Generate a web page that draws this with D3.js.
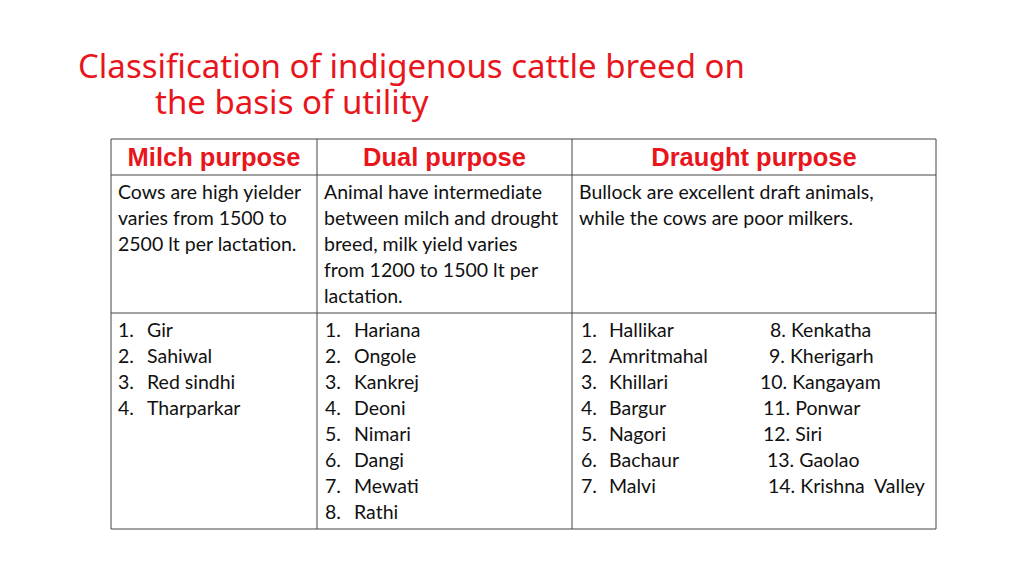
<!DOCTYPE html>
<html><head><meta charset="utf-8">
<script src="https://cdn.jsdelivr.net/npm/d3@7"></script>
<style>body{margin:0;background:#fff}</style>
</head><body>
<svg id="slide" width="1024" height="575"></svg>
<script>
const titleLines = ["Classification of indigenous cattle breed on", "the basis of utility"];
const headers = ["Milch purpose", "Dual purpose", "Draught purpose"];
const descriptions = [
  ["Cows are high yielder", "varies from 1500 to", "2500 lt per lactation."],
  ["Animal have intermediate", "between milch and drought", "breed, milk yield varies", "from 1200 to 1500 lt per", "lactation."],
  ["Bullock are excellent draft animals,", "while the cows are poor milkers."]
];
const milchBreeds = ["Gir", "Sahiwal", "Red sindhi", "Tharparkar"];
const dualBreeds = ["Hariana", "Ongole", "Kankrej", "Deoni", "Nimari", "Dangi", "Mewati", "Rathi"];
const draughtBreeds = ["Hallikar", "Amritmahal", "Khillari", "Bargur", "Nagori", "Bachaur", "Malvi",
  "Kenkatha", "Kherigarh", "Kangayam", "Ponwar", "Siri", "Gaolao", "Krishna  Valley"];

const svg = d3.select("#slide");
const red = "#e8161c";
const bodyFont = "Lato, 'Open Sans', sans-serif";
const bodySize = 19.5;

// title
svg.selectAll("text.title").data(titleLines).enter().append("text")
  .attr("x", (d, i) => i === 0 ? 78 : 155)
  .attr("y", (d, i) => 78 + i * 36)
  .attr("fill", red).attr("font-family", "'Noto Sans', 'Open Sans', sans-serif")
  .attr("font-size", 33).text(d => d);

const colX = [111, 317, 572, 936];
const rowY = [139, 175, 313, 529];

// grid
const g = svg.append("g").attr("stroke", "#444").attr("stroke-width", 1);
colX.forEach(x => g.append("line").attr("x1", x).attr("x2", x).attr("y1", rowY[0]).attr("y2", rowY[3]));
rowY.forEach(y => g.append("line").attr("x1", colX[0]).attr("x2", colX[3]).attr("y1", y).attr("y2", y));

// headers
svg.selectAll("text.hdr").data(headers).enter().append("text")
  .attr("x", (d, i) => (colX[i] + colX[i + 1]) / 2).attr("y", 166)
  .attr("text-anchor", "middle").attr("fill", red)
  .attr("font-family", "'Liberation Sans', Arial, sans-serif").attr("font-weight", "bold")
  .attr("font-size", 25.5).text(d => d);

const lineH = 26;
// descriptions
descriptions.forEach((lines, c) => {
  svg.selectAll(null).data(lines).enter().append("text")
    .attr("x", colX[c] + 7).attr("y", (d, i) => 199 + i * lineH)
    .attr("font-family", bodyFont).attr("font-size", bodySize).attr("fill", "#111").text(d => d);
});

function list(items, start, numX, nameX) {
  const grp = svg.append("g").attr("font-family", bodyFont).attr("font-size", bodySize).attr("fill", "#111");
  items.forEach((d, i) => {
    const y = 337 + i * lineH;
    grp.append("text").attr("x", numX).attr("y", y).text((start + i) + ".");
    grp.append("text").attr("x", nameX).attr("y", y).text(d);
  });
}
list(milchBreeds, 1, 118, 147);
list(dualBreeds, 1, 325, 354);
list(draughtBreeds.slice(0, 7), 1, 581, 609);
// second draught column
const secondX = [770, 769, 760, 763, 763, 767, 768];
svg.append("g").attr("font-family", bodyFont).attr("font-size", bodySize).attr("fill", "#111")
  .selectAll("text").data(draughtBreeds.slice(7)).enter().append("text")
  .attr("x", (d, i) => secondX[i])
  .attr("y", (d, i) => 337 + i * lineH)
  .attr("xml:space", "preserve").style("white-space", "pre")
  .text((d, i) => (i + 8) + ". " + d);
</script>
</body></html>
